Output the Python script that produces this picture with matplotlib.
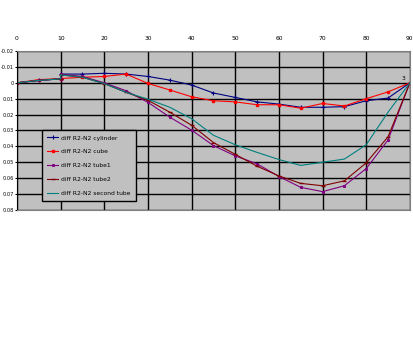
import numpy as np
import matplotlib.pyplot as plt

# angle (deg); 10 appears twice because the curves jump there
angle = [0, 5, 10, 10, 15, 20, 25, 30, 35, 40, 45, 50, 55, 60, 65, 70, 75, 80, 85, 90]

cylinder = [0, -0.0015, -0.0025, -0.0055, -0.0055, -0.006, -0.0055, -0.004, -0.0017, 0.0014,
            0.0064, 0.0092, 0.012, 0.0134, 0.0154, 0.0154, 0.015, 0.0113, 0.0096, 0]
cube = [0, -0.002, -0.0027, -0.0027, -0.0035, -0.004, -0.0055, 0.0004, 0.0045, 0.0088,
        0.0113, 0.012, 0.0138, 0.0138, 0.016, 0.013, 0.0146, 0.01, 0.0057, 0]
tube1 = [0, -0.0015, -0.0025, -0.0055, -0.004, 0.0, 0.005, 0.0123, 0.0216, 0.0298,
         0.0395, 0.046, 0.051, 0.059, 0.0658, 0.0685, 0.0648, 0.054, 0.036, 0]
tube2 = [0, -0.0015, -0.0025, -0.005, -0.0035, 0.0005, 0.006, 0.011, 0.0185, 0.0267,
         0.0376, 0.045, 0.0525, 0.0586, 0.0633, 0.0648, 0.0617, 0.0504, 0.034, 0]
second_tube = [0, -0.0015, -0.0025, -0.005, -0.0035, 0.0005, 0.006, 0.0103, 0.0154, 0.0226,
               0.033, 0.039, 0.0438, 0.0483, 0.052, 0.05, 0.048, 0.039, 0.0185, 0]

xticks = np.arange(0, 91, 10)
yticks = np.arange(-0.02, 0.081, 0.01)
ytick_labels = ['-0.02', '-0.01', '0', '0.01', '0.02', '0.03', '0.04', '0.05', '0.06', '0.07', '0.08']

fig = plt.figure(figsize=(4.14, 3.38), dpi=100)
ax = fig.add_axes([0.041, 0.379, 0.949, 0.470])
ax.set_facecolor('#c0c0c0')

fs = 4.3
ax.plot(angle, cylinder, color='#000080', lw=0.8, marker='+', ms=3, mew=0.8, label='diff R2-N2 cylinder')
ax.plot(angle, cube, color='#ff0000', lw=0.8, marker='s', ms=1.5, label='diff R2-N2 cube')
ax.plot(angle, tube1, color='#800080', lw=0.8, marker='s', ms=1.2, label='diff R2-N2 tube1')
ax.plot(angle, tube2, color='#800000', lw=0.8, marker='_', ms=2.5, label='diff R2-N2 tube2')
ax.plot(angle, second_tube, color='#008080', lw=0.8, label='diff R2-N2 second tube')

ax.set_xlim(0, 90)
ax.set_ylim(0.08, -0.02)
ax.set_xticks(xticks)
ax.set_yticks(yticks)
ax.set_yticklabels(ytick_labels)
ax.xaxis.tick_top()
ax.tick_params(axis='x', length=0, pad=7, labelsize=fs)
ax.tick_params(axis='y', length=1.5, width=0.8, pad=0.5, labelsize=3.6)
ax.grid(True, color='black', lw=1)
ax.set_axisbelow(True)
for s in ['top', 'right', 'bottom']:
    ax.spines[s].set_color('#808080')
ax.spines['left'].set_color('black')

ax.text(88.5, -0.003, '3', fontsize=fs, ha='center', va='center')

leg = ax.legend(loc='upper left', bbox_to_anchor=(0.056, 0.522), fontsize=fs,
                fancybox=False, framealpha=1, facecolor='#c0c0c0', edgecolor='black',
                handlelength=1.8, labelspacing=1.45, borderpad=0.9, handletextpad=0.5)
leg.get_frame().set_linewidth(1)

fig.savefig('out.png', dpi=100)
